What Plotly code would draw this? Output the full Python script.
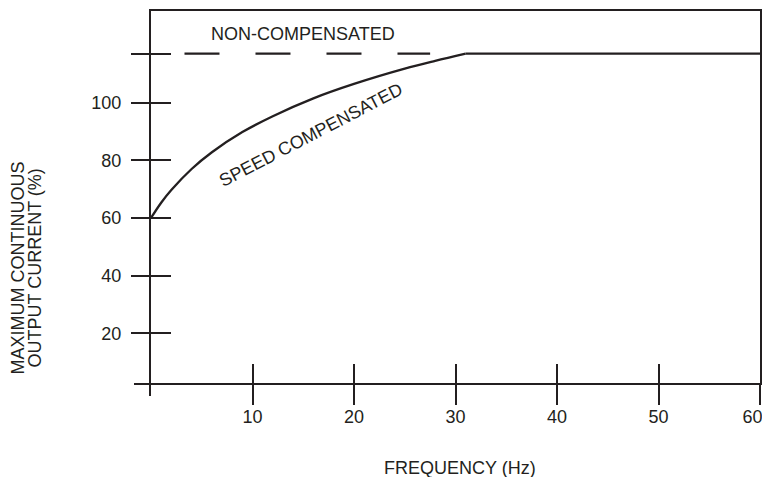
import plotly.graph_objects as go

# chart values
freq_ticks = [10, 20, 30, 40, 50, 60]
pct_ticks = [20, 40, 60, 80, 100]
max_level = 117

speed_freq = [0, 1, 2, 4, 6, 9, 12, 16, 20, 25, 28, 31, 60]
speed_pct = [60, 65.3, 69.7, 77.0, 82.8, 89.8, 95.3, 101.5, 106.5, 111.8, 114.5, 117, 117]

noncomp_freq = [3.3, 27.5]
noncomp_pct = [max_level, max_level]

INK = '#231f20'
FONT = 'Liberation Sans, Arial, sans-serif'

# the page body has an 8px margin, so the figure starts 8px in;
# the plot box is placed so its frame lands where the drawing has it
W, H = 762, 469
OFF = 8
PL, PR, PT, PB = 151, 760, 11, 383  # plot box in window pixels


def px_x(px):
    return (px - PL) / (PR - PL)


def px_y(py):
    return (PB - py) / (PB - PT)


# last label nudged left (padded with no-break spaces) so it stays on the page
freq_text = [str(v) for v in freq_ticks]
freq_text[-1] = freq_text[-1] + '\u00a0\u00a0\u00a0'

fig = go.Figure()

# rising part smoothed, flat part straight (avoids spline overshoot)
fig.add_trace(go.Scatter(x=speed_freq[:-1], y=speed_pct[:-1], mode='lines',
                         line=dict(color=INK, width=2.3, shape='spline'),
                         hoverinfo='skip', showlegend=False))
fig.add_trace(go.Scatter(x=speed_freq[-2:], y=speed_pct[-2:], mode='lines',
                         line=dict(color=INK, width=2.3),
                         hoverinfo='skip', showlegend=False))

# dashed line sits on the overlay axes so they get drawn
fig.add_trace(go.Scatter(x=noncomp_freq, y=noncomp_pct, mode='lines',
                         xaxis='x2', yaxis='y2',
                         line=dict(color=INK, width=2.3, dash='35px,36px'),
                         hoverinfo='skip', showlegend=False))

x_range = [0, 60]
y_range = [2.76, 131.8]

axis_common = dict(showgrid=False, zeroline=False, tickwidth=2, tickcolor=INK,
                   automargin=False)

fig.update_layout(
    width=W, height=H,
    margin=dict(l=PL - OFF, r=W - (PR - OFF), t=PT - OFF, b=H - (PB - OFF)),
    paper_bgcolor='white', plot_bgcolor='white',
    font=dict(family=FONT, size=18, color=INK),
    xaxis=dict(range=x_range, showline=True, linewidth=2, linecolor=INK, mirror=True,
               ticks='outside', ticklen=20, tickvals=freq_ticks, ticktext=freq_text,
               ticklabelstandoff=-4, ticklabeloverflow='allow',
               tickfont=dict(family=FONT, size=18, color=INK), **axis_common),
    yaxis=dict(range=y_range, showline=True, linewidth=2, linecolor=INK, mirror=True,
               ticks='outside', ticklen=18, tickvals=pct_ticks + [max_level],
               ticktext=[str(v) for v in pct_ticks] + [''], ticklabelstandoff=6,
               tickfont=dict(family=FONT, size=18, color=INK), **axis_common),
    xaxis2=dict(range=x_range, overlaying='x', anchor='y2', side='bottom',
                ticks='inside', ticklen=19, tickvals=freq_ticks,
                showticklabels=False, showline=False, **axis_common),
    yaxis2=dict(range=y_range, overlaying='y', anchor='x2', side='left',
                ticks='inside', ticklen=20, tickvals=pct_ticks + [max_level],
                showticklabels=False, showline=False, **axis_common),
)

# axis line stubs past the crossing point
fig.add_shape(type='line', xref='paper', yref='paper',
              x0=px_x(134), x1=px_x(150), y0=px_y(384), y1=px_y(384),
              line=dict(color=INK, width=2))
fig.add_shape(type='line', xref='paper', yref='paper',
              x0=px_x(150), x1=px_x(150), y0=px_y(384), y1=px_y(396),
              line=dict(color=INK, width=2))

fig.add_annotation(text='NON-COMPENSATED', x=15, y=123.8, xref='x', yref='y',
                   showarrow=False, font=dict(family=FONT, size=18, color=INK))
fig.add_annotation(text='SPEED COMPENSATED', x=15.75, y=88.8, xref='x', yref='y',
                   textangle=-27.5, showarrow=False,
                   font=dict(family=FONT, size=18, color=INK))

# axis titles
fig.add_annotation(text='MAXIMUM CONTINUOUS', x=px_x(17.5), y=px_y(268),
                   xref='paper', yref='paper', showarrow=False, textangle=-90,
                   font=dict(family=FONT, size=18, color=INK))
fig.add_annotation(text='OUTPUT CURRENT (%)', x=px_x(34.5), y=px_y(268),
                   xref='paper', yref='paper', showarrow=False, textangle=-90,
                   font=dict(family=FONT, size=18, color=INK))
fig.add_annotation(text='FREQUENCY (Hz)', x=px_x(460), y=px_y(468),
                   xref='paper', yref='paper', showarrow=False,
                   font=dict(family=FONT, size=18, color=INK))

for ann in fig.layout.annotations:
    ann.xanchor = 'center'
    ann.yanchor = 'middle'

fig.write_html("out.html")
